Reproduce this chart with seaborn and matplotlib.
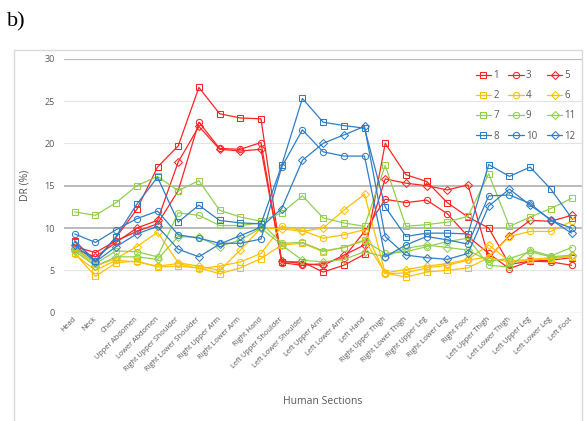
import numpy as np
import pandas as pd
import matplotlib
matplotlib.use("Agg")
import matplotlib.pyplot as plt
import seaborn as sns
from matplotlib.lines import Line2D
from matplotlib.patches import Rectangle

categories = ["Head", "Neck", "Chest", "Upper Abdomen", "Lower Abdomen",
              "Right Upper Shoulder", "Right Lower Shoulder", "Right Upper Arm",
              "Right Lower Arm", "Right Hand", "Left Upper Shoulder",
              "Left Lower Shoulder", "Left Upper Arm", "Left Lower Arm", "Left Hand",
              "Right Upper Thigh", "Right Lower Thigh", "Right Upper Leg",
              "Right Lower Leg", "Right Foot", "Left Upper Thigh", "Left Lower Thigh",
              "Left Upper Leg", "Left Lower Leg", "Left Foot"]

s1 = [8.5, 6.1, 8.9, 12.2, 17.2, 19.7, 26.6, 23.5, 23.0, 22.9, 6.0, 6.0, 4.8, 5.6, 6.9,
      20.0, 16.3, 15.5, 13.0, 11.3, 10.0, 5.7, 6.1, 6.2, 6.5]
s3 = [7.8, 7.1, 8.5, 9.6, 10.5, 14.4, 22.5, 19.4, 19.3, 20.1, 5.9, 5.6, 5.8, 6.5, 9.6,
      13.4, 13.0, 13.3, 11.7, 9.0, 7.0, 5.2, 6.1, 6.0, 5.6]
s5 = [7.5, 6.6, 8.3, 10.0, 10.9, 17.8, 22.0, 19.3, 19.1, 19.3, 6.1, 5.8, 5.6, 6.8, 8.0,
      15.8, 15.3, 15.0, 14.5, 15.1, 6.5, 9.1, 10.9, 10.8, 11.5]
s2 = [7.0, 4.3, 5.9, 6.1, 5.4, 5.5, 5.3, 4.6, 5.3, 6.4, 8.0, 8.2, 7.2, 7.7, 8.6,
      4.7, 4.2, 4.8, 5.0, 5.3, 6.5, 6.0, 6.2, 6.4, 6.6]
s4 = [6.9, 5.0, 6.2, 6.0, 5.5, 5.8, 5.2, 5.5, 6.0, 7.0, 10.2, 9.7, 8.8, 9.2, 9.8,
      4.6, 4.7, 5.3, 5.6, 6.2, 6.6, 9.0, 9.6, 9.6, 10.8]
s6 = [7.6, 5.5, 6.4, 7.8, 9.5, 5.9, 5.5, 5.0, 7.4, 10.0, 9.9, 9.6, 10.0, 12.1, 14.0,
      4.7, 5.1, 5.5, 5.8, 6.3, 8.0, 6.1, 6.3, 6.5, 6.7]
s7 = [11.9, 11.5, 13.0, 15.0, 16.1, 14.4, 15.6, 12.1, 11.3, 10.8, 11.8, 13.8, 11.2, 10.6, 10.2,
      17.4, 10.2, 10.4, 10.7, 11.4, 16.4, 10.2, 11.3, 12.3, 13.5]
s9 = [7.7, 5.8, 7.3, 7.2, 6.6, 11.8, 11.5, 10.3, 10.3, 10.6, 8.2, 8.3, 7.3, 7.7, 8.5,
      7.0, 7.2, 7.8, 8.4, 8.8, 5.6, 5.4, 7.4, 6.7, 7.7]
s11 = [7.3, 5.5, 6.6, 6.6, 6.3, 9.0, 8.9, 7.8, 8.6, 10.0, 8.0, 6.2, 6.0, 6.3, 7.2,
       6.6, 7.6, 8.0, 7.7, 7.4, 6.1, 6.4, 7.2, 6.6, 6.8]
s8 = [8.4, 6.1, 9.0, 12.8, 16.0, 10.7, 12.7, 10.9, 10.6, 10.5, 17.4, 25.3, 22.5, 22.1, 21.8,
      12.5, 9.0, 9.4, 9.4, 9.3, 17.5, 16.1, 17.2, 14.6, 11.2]
s10 = [9.3, 8.3, 9.8, 11.1, 12.0, 9.2, 8.8, 8.2, 8.2, 8.7, 17.2, 21.6, 19.0, 18.5, 18.5,
       6.6, 8.0, 9.0, 8.6, 8.1, 13.8, 13.9, 12.9, 10.9, 10.0]
s12 = [8.0, 6.0, 7.8, 9.3, 10.2, 7.5, 6.6, 8.1, 9.1, 10.1, 12.3, 18.0, 20.0, 21.0, 22.0,
       9.0, 6.8, 6.5, 6.3, 7.0, 12.6, 14.6, 12.7, 11.0, 9.4]

series = {"1": s1, "3": s3, "5": s5, "2": s2, "4": s4, "6": s6,
          "7": s7, "9": s9, "11": s11, "8": s8, "10": s10, "12": s12}

RED, YEL, GRN, BLU = "#FF2424", "#FFC000", "#92D050", "#2E7EC6"
palette = {"1": RED, "3": RED, "5": RED, "2": YEL, "4": YEL, "6": YEL,
           "7": GRN, "9": GRN, "11": GRN, "8": BLU, "10": BLU, "12": BLU}
markers = {"1": "s", "3": "o", "5": "D", "2": "s", "4": "o", "6": "D",
           "7": "s", "9": "o", "11": "D", "8": "s", "10": "o", "12": "D"}

df = pd.concat([pd.DataFrame({"section": categories, "DR": v, "series": k})
                for k, v in series.items()], ignore_index=True)

sns.set_theme(style="white")
plt.rcParams["font.family"] = ["Open Sans", "DejaVu Sans"]
TXT = "#595959"

fig = plt.figure(figsize=(5.87, 4.21), dpi=100)
fig.patch.set_facecolor("white")
fig.add_artist(Rectangle((14.5 / 587, -0.01), (582 - 14.5) / 587, 1.01 - 50 / 421,
                         transform=fig.transFigure, fill=False, edgecolor="#d9d9d9", lw=1))
ax = fig.add_axes([64.35 / 587, 1 - 312.7 / 421, 517.5 / 587, 254 / 421])
ax.set_facecolor("none")

for yv, c, lw in [(5, "#e4e4e4", 0.8), (20, "#e4e4e4", 0.8), (25, "#e4e4e4", 0.8),
                  (10, "#a8a8a8", 1.1), (15, "#a8a8a8", 1.1), (30, "#bdbdbd", 1.6),
                  (0, "#d0d0d0", 1.0)]:
    ax.axhline(yv, color=c, lw=lw, zorder=0)

sns.lineplot(data=df, x="section", y="DR", hue="series", style="series",
             markers=markers, dashes=False, palette=palette, sort=False,
             estimator=None, legend=False, ax=ax, linewidth=0.9, markersize=4.5)

for line in ax.lines:
    m = line.get_marker()
    if m in ("s", "o", "D"):
        c = line.get_color()
        line.set_markeredgecolor(c)
        line.set_markerfacecolor("none")
        line.set_markeredgewidth(0.75)
        if m == "D":
            line.set_markersize(3.6)

ax.set_xlim(-0.5, len(categories) - 0.5)
ax.set_ylim(0, 30)
ax.set_yticks(range(0, 31, 5))
for s in ax.spines.values():
    s.set_visible(False)
ax.tick_params(axis="both", length=0, colors=TXT)
ax.tick_params(axis="y", labelsize=6.5, pad=7)
ax.tick_params(axis="x", labelsize=5.3, pad=4)
plt.setp(ax.get_xticklabels(), rotation=45, ha="right", va="center", rotation_mode="anchor")

ax.set_xlabel("Human Sections", fontsize=7.5, color=TXT)
ax.xaxis.set_label_coords(0.5, -0.328)
ax.set_ylabel("DR (%)", fontsize=7.5, color=TXT)
ax.yaxis.set_label_coords(-0.066, 0.5)

order = ["1", "2", "7", "8", "3", "4", "9", "10", "5", "6", "11", "12"]
handles = [Line2D([], [], color=palette[k], marker=markers[k], mfc="none", mec=palette[k],
                  mew=0.75, ms=(3.6 if markers[k] == "D" else 4.5), lw=0.9) for k in order]
leg = ax.legend(handles, order, ncol=3, frameon=False, loc="upper right",
                bbox_to_anchor=(1.005, 0.99), fontsize=7, handlelength=1.6,
                handletextpad=0.2, columnspacing=1.0, labelspacing=0.95)
for t in leg.get_texts():
    t.set_color(TXT)

fig.text(7 / 587, 1 - 22 / 421, "b)", fontfamily=["Liberation Serif"], fontsize=16,
         va="center", ha="left", color="black")

fig.savefig("out.png", dpi=100)
